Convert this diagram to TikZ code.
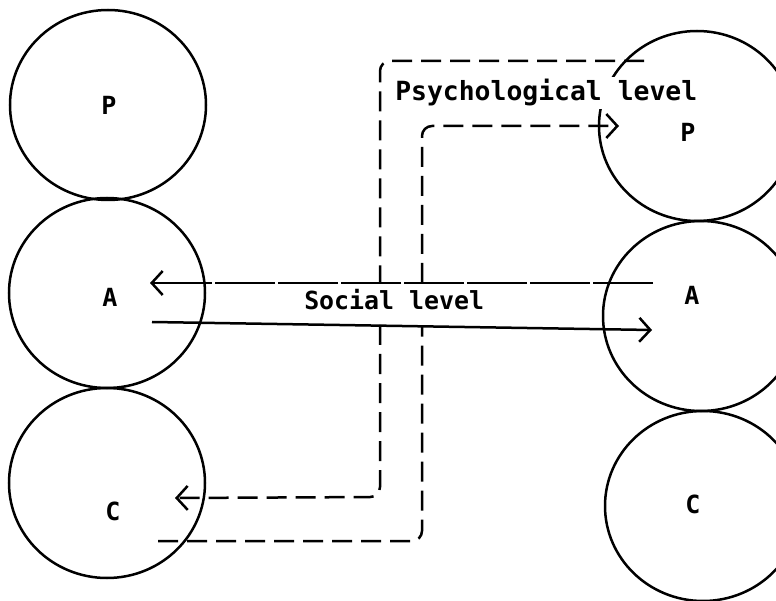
\documentclass[tikz,border=0pt]{standalone}
\usepackage{fontspec}
\setmonofont{DejaVu Sans Mono}
\usetikzlibrary{shapes.geometric,arrows.meta}

\begin{document}
\begin{tikzpicture}[x=1pt,y=-1pt,line width=2.5pt,
  ego/.style={ellipse,draw,minimum width=196pt,minimum height=190pt,inner sep=0pt},
  letter/.style={font=\ttfamily\bfseries\fontsize{25}{30}\selectfont,inner sep=0pt},
  psy/.style={dash pattern=on 20pt off 9pt,rounded corners=10pt},
  tip/.style={-{Straight Barb[length=11pt,width=24pt]}}]
\useasboundingbox (0,0) rectangle (776,601);
\clip (0,0) rectangle (776,601);

\node[ego,label={[letter,xshift=1pt]center:P}] (PL) at (108,105) {};
\node[ego,label={[letter,xshift=3pt,yshift=-4pt]center:A}] (AL) at (107,293) {};
\node[ego,label={[letter,xshift=6pt,yshift=-28pt]center:C}] (CL) at (107,483) {};
\node[ego,label={[letter,xshift=-9pt,yshift=-6pt]center:P}] (PR) at (697,126) {};
\node[ego,label={[letter,xshift=-9pt,yshift=21pt]center:A}] (AR) at (701,316) {};
\node[ego,label={[letter,xshift=-10pt,yshift=2pt]center:C}] (CR) at (703,506) {};

\node[letter,font=\ttfamily\bfseries\fontsize{26.4}{30}\selectfont,anchor=base west,fill=white,inner sep=3pt] (Psy) at (391,101) {Psychological level};
\node[letter,font=\ttfamily\bfseries\fontsize{24.9}{30}\selectfont,anchor=base west] (Soc) at (303,310) {Social level};

\coordinate (pr1) at (644,61);
\coordinate (cl1) at (175,498);
\coordinate (cl2) at (158,541);
\coordinate (pr2) at (619,126);
\coordinate (ar1) at (653,283);
\coordinate (al1) at (150,283);
\coordinate (al2) at (152,322);
\coordinate (ar2) at (652,330);

\draw[psy] (pr1) -- (380,61) -- (380,283) (380,325) -- (380,497) [tip] -- (cl1);
\draw[psy,tip] (cl2) -- (422,541) -- (422,327) (422,283) -- (422,126) -- (pr2);
\draw[tip,dash pattern=on 60pt off 3pt] (ar1) -- (al1);
\draw[tip] (al2) -- (ar2);
\end{tikzpicture}
\end{document}
